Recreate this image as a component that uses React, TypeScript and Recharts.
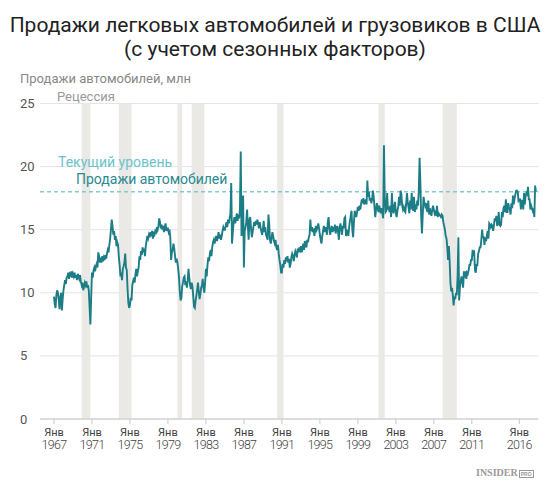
import React from "react";
import {
  ComposedChart,
  Line,
  XAxis,
  YAxis,
  CartesianGrid,
  ReferenceArea,
  ReferenceLine,
} from "recharts";

// monthly, seasonally adjusted annual rate, millions
const startYear = 1967;

const sales1967to1976 = [
  9.7, 9.1, 8.8, 9.8, 10.2, 10.0, 9.5, 8.7, 9.6, 10.0, 8.6, 9.5,
  10.2, 10.6, 11.0, 10.7, 11.2, 11.3, 11.6, 11.1, 11.5, 11.4, 11.7, 11.2,
  11.5, 11.3, 11.6, 11.2, 11.4, 11.0, 11.5, 11.3, 11.1, 11.4, 10.9, 10.6,
  10.8, 10.2, 10.5, 10.8, 10.6, 10.9, 10.4, 10.6, 10.2, 8.9, 7.5, 9.6,
  11.6, 11.2, 11.8, 12.0, 11.7, 12.1, 12.3, 12.0, 13.2, 12.9, 12.4, 12.6,
  12.4, 12.9, 12.5, 12.8, 12.6, 13.0, 12.7, 13.1, 13.4, 13.2, 13.8, 14.3,
  15.0, 15.8, 15.3, 14.6, 14.9, 14.2, 14.5, 13.7, 14.0, 13.8, 12.8, 12.2,
  11.3, 11.6, 11.0, 11.9, 12.1, 12.4, 13.1, 12.0, 11.8, 10.3, 9.2, 8.8,
  9.0, 9.6, 9.4, 10.6, 10.9, 11.2, 10.8, 11.5, 11.9, 11.3, 11.7, 12.0,
  12.9, 12.6, 13.3, 13.0, 13.6, 13.2, 13.5, 12.9, 13.7, 14.1, 14.5, 14.3,
];

const sales1977to1986 = [
  14.6, 14.4, 14.8, 14.5, 14.9, 14.3, 14.7, 14.6, 14.9, 14.8, 15.2, 15.0,
  15.3, 15.9, 15.6, 15.1, 15.4, 15.0, 15.3, 14.8, 15.2, 15.5, 14.9, 15.1,
  15.1, 14.8, 15.0, 14.4, 12.6, 13.2, 13.4, 13.9, 13.5, 12.9, 12.4, 12.7,
  12.4, 11.9, 11.2, 10.1, 9.4, 9.6, 10.5, 10.8, 11.2, 11.3, 10.6, 10.9,
  10.4, 11.0, 11.9, 11.2, 10.6, 10.3, 10.8, 10.5, 9.7, 8.9, 8.8, 9.4,
  9.8, 10.3, 10.8, 10.1, 9.5, 9.9, 10.4, 10.6, 11.1, 10.4, 10.0, 10.8,
  11.9, 11.3, 12.2, 12.8, 12.5, 13.1, 13.4, 12.9, 13.6, 14.0, 14.2, 13.9,
  14.2, 14.5, 14.1, 14.4, 14.8, 14.3, 14.6, 14.2, 14.5, 14.9, 15.2, 15.0,
  15.0, 15.3, 15.6, 15.2, 15.8, 15.5, 15.9, 16.3, 18.7, 13.9, 14.8, 15.6,
  16.0, 15.5, 15.8, 16.3, 15.7, 16.2, 15.9, 16.6, 21.2, 14.5, 15.8, 17.7,
];

const sales1987to1996 = [
  12.0, 14.9, 15.2, 15.6, 16.6, 15.3, 14.2, 15.8, 16.0, 15.1, 14.4, 14.8,
  15.2, 15.6, 15.3, 15.7, 15.4, 15.8, 15.5, 15.1, 15.6, 15.2, 14.9, 14.6,
  15.0, 15.7, 14.8, 15.2, 14.6, 14.4, 14.2, 16.2, 15.4, 14.2, 13.9, 14.3,
  14.8, 14.5, 14.1, 13.9, 14.2, 13.6, 13.4, 13.8, 13.1, 12.6, 12.2, 11.6,
  11.6, 12.3, 12.0, 12.6, 12.3, 12.8, 12.5, 12.9, 12.4, 12.7, 12.0, 12.3,
  12.8, 13.1, 12.9, 12.5, 13.0, 13.3, 13.1, 12.8, 13.5, 13.2, 13.6, 13.4,
  13.7, 13.2, 13.5, 13.9, 13.4, 14.1, 13.8, 13.6, 14.2, 14.0, 14.4, 14.6,
  15.8, 14.9, 15.2, 14.8, 15.1, 14.5, 14.9, 15.3, 15.0, 15.2, 15.5, 15.1,
  14.6, 14.2, 13.9, 14.5, 14.9, 15.3, 14.8, 15.2, 15.0, 14.6, 15.6, 16.0,
  15.1, 14.6, 15.0, 15.3, 14.8, 15.2, 14.9, 15.4, 14.7, 15.1, 15.3, 14.8,
];

const sales1997to2006 = [
  14.2, 15.2, 15.5, 15.0, 14.6, 15.3, 15.1, 15.9, 16.0, 14.5, 15.0, 14.8,
  14.5, 15.2, 15.7, 16.1, 16.5, 15.0, 14.4, 15.6, 16.5, 16.2, 16.0, 16.4,
  16.8, 16.5, 16.9, 16.6, 17.0, 17.4, 17.1, 17.5, 17.0, 17.2, 17.4, 17.0,
  18.9, 17.6, 18.0, 17.3, 17.5, 17.1, 17.4, 18.1, 17.6, 16.8, 16.0, 16.6,
  17.1, 16.8, 16.4, 16.9, 16.6, 16.3, 16.7, 16.3, 15.9, 21.7, 17.5, 16.4,
  16.5, 17.9, 16.6, 16.8, 16.4, 16.9, 16.0, 17.9, 16.6, 16.3, 16.9, 17.2,
  16.3, 16.0, 16.5, 16.8, 17.6, 16.9, 18.1, 17.8, 16.9, 16.6, 16.8, 16.5,
  16.4, 17.0, 17.9, 17.2, 16.8, 16.3, 17.3, 16.6, 17.9, 16.9, 16.5, 17.6,
  16.4, 17.0, 16.6, 17.3, 16.9, 18.1, 20.7, 18.7, 16.1, 14.7, 16.2, 17.6,
  17.2, 16.9, 17.1, 16.6, 16.4, 17.3, 16.2, 16.7, 16.3, 16.1, 16.6, 16.9,
];

const sales2007to2017 = [
  16.6, 16.3, 16.5, 16.1, 16.9, 16.0, 16.3, 16.2, 16.1, 16.0, 16.2, 16.1,
  15.6, 15.3, 15.0, 14.5, 14.3, 13.6, 12.6, 13.7, 12.5, 10.8, 10.1, 10.4,
  9.8, 9.0, 9.7, 9.5, 10.0, 9.8, 11.3, 14.4, 9.4, 10.5, 10.9, 11.3,
  10.9, 10.4, 11.7, 11.2, 11.7, 11.1, 11.6, 11.5, 11.8, 12.2, 12.2, 12.6,
  12.6, 13.4, 13.1, 13.2, 11.8, 11.6, 12.2, 12.2, 13.1, 13.3, 13.6, 13.6,
  14.2, 15.0, 14.4, 14.4, 13.8, 14.4, 14.1, 14.5, 14.9, 14.3, 15.5, 15.4,
  15.2, 15.4, 15.3, 14.9, 15.4, 15.9, 15.7, 16.1, 15.3, 15.5, 16.4, 15.4,
  15.3, 15.4, 16.4, 16.0, 16.7, 16.9, 16.4, 17.4, 16.4, 16.4, 17.1, 16.8,
  16.6, 16.2, 17.1, 16.7, 17.7, 17.0, 17.5, 17.8, 18.1, 18.1, 18.0, 17.3,
  17.4, 17.4, 16.6, 17.3, 17.3, 16.6, 17.9, 17.0, 17.7, 17.9, 17.8, 18.4,
  17.4, 17.4, 16.6, 16.9, 16.7, 16.5, 16.7, 16.0, 18.5, 18.0,
];

const currentLevel = 18.0;

// NBER recessions, as decimal years
const recessionStart = [1969.92, 1973.83, 1980.0, 1981.5, 1990.5, 2001.17, 2007.92];
const recessionEnd = [1970.83, 1975.17, 1980.5, 1982.83, 1991.17, 2001.83, 2009.42];

const xTicks = [1967, 1971, 1975, 1979, 1983, 1987, 1991, 1995, 1999, 2003, 2007, 2011, 2016];
const yTicks = [0, 5, 10, 15, 20, 25];

const allSales = [
  ...sales1967to1976,
  ...sales1977to1986,
  ...sales1987to1996,
  ...sales1997to2006,
  ...sales2007to2017,
];
const data = allSales.map((v, i) => ({ t: startYear + i / 12, v }));

const FONT = "Roboto, 'Noto Sans', sans-serif";

function XTick({ x, y, payload }: any) {
  return (
    <text x={x} y={y + 9.5} textAnchor="middle" fill="#444" fontFamily={FONT}>
      <tspan x={x} fontSize={11}>
        Янв
      </tspan>
      <tspan x={x} dy={13.5} fontSize={12.5} letterSpacing={-0.7} fontWeight={300}>
        {payload.value}
      </tspan>
    </text>
  );
}

function YTick({ y, payload }: any) {
  return (
    <text x={20} y={y + 4.5} textAnchor="start" fill="#555" fontSize={13} fontFamily={FONT}>
      {payload.value}
    </text>
  );
}

export default function App() {
  return (
    <div style={{ position: "relative", width: 550, height: 489, background: "#fff", fontFamily: FONT }}>
      <style>{"body{margin:0}"}</style>
      <div
        style={{
          position: "absolute",
          top: 13,
          left: 0,
          width: 550,
          textAlign: "center",
          fontSize: 21,
          lineHeight: "24px",
          color: "#222",
        }}
      >
        Продажи легковых автомобилей и грузовиков в США
        <br />
        (с учетом сезонных факторов)
      </div>
      <div style={{ position: "absolute", top: 71, left: 20, fontSize: 13, lineHeight: "16px", color: "#888" }}>
        Продажи автомобилей, млн
      </div>
      <div style={{ position: "absolute", top: 89, left: 57, fontSize: 13, lineHeight: "16px", color: "#999" }}>
        Рецессия
      </div>

      <ComposedChart
        width={550}
        height={489}
        data={data}
        margin={{ top: 103.5, right: 11.7, bottom: 30, left: 0 }}
      >
        {recessionStart.map((s, i) => (
          <ReferenceArea
            key={s}
            x1={s}
            x2={recessionEnd[i]}
            y1={0}
            y2={25}
            fill="#ebe9e6"
            fillOpacity={1}
            strokeOpacity={0}
          />
        ))}
        <CartesianGrid vertical={false} stroke="#e4e4e4" />
        <XAxis
          type="number"
          dataKey="t"
          domain={[1965.53, 2018.0]}
          ticks={xTicks}
          interval={0}
          allowDataOverflow
          height={40}
          tickSize={5}
          axisLine={{ stroke: "#c8c8c8" }}
          tickLine={{ stroke: "#c8c8c8" }}
          tick={<XTick />}
        />
        <YAxis
          type="number"
          domain={[0, 25]}
          ticks={yTicks}
          width={40}
          axisLine={false}
          tickLine={false}
          tick={<YTick />}
        />
        <ReferenceLine y={currentLevel} stroke="#7fcbd1" strokeWidth={1.5} strokeDasharray="4 3" />
        <Line
          type="linear"
          dataKey="v"
          stroke="#1d7d86"
          strokeWidth={1.9}
          dot={false}
          isAnimationActive={false}
        />
      </ComposedChart>

      <div style={{ position: "absolute", top: 154, left: 58, fontSize: 14, lineHeight: "16px", color: "#6cc3c9" }}>
        Текущий уровень
      </div>
      <div style={{ position: "absolute", top: 171, left: 76, fontSize: 14, lineHeight: "16px", color: "#2a8a91" }}>
        Продажи автомобилей
      </div>
      <div
        style={{
          position: "absolute",
          top: 467,
          left: 476,
          fontFamily: "'Liberation Serif', serif",
          fontWeight: 700,
          fontSize: 10,
          color: "#9a9a9a",
          lineHeight: "12px",
          whiteSpace: "nowrap",
        }}
      >
        INSIDER
        <span
          style={{
            fontFamily: "'Liberation Sans', sans-serif",
            fontSize: 5,
            border: "1px solid #9a9a9a",
            padding: "0 1px",
            marginLeft: 1,
            verticalAlign: "middle",
          }}
        >
          PRO
        </span>
      </div>
    </div>
  );
}
